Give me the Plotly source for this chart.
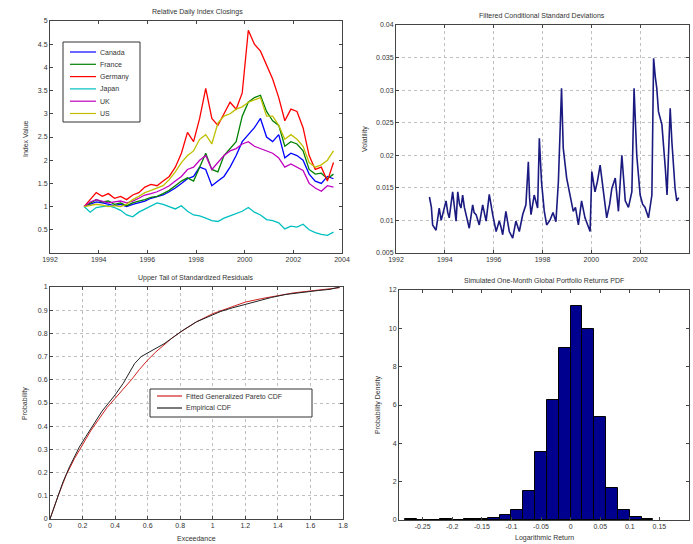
import plotly.graph_objects as go

# ---------------- data: relative daily index closings ----------------
years = [1993.4, 1993.65, 1993.9, 1994.15, 1994.4, 1994.65, 1994.9, 1995.15, 1995.4, 1995.65,
         1995.9, 1996.15, 1996.4, 1996.65, 1996.9, 1997.15, 1997.4, 1997.65, 1997.9, 1998.15,
         1998.4, 1998.65, 1998.9, 1999.15, 1999.4, 1999.65, 1999.9, 2000.15, 2000.4, 2000.65,
         2000.9, 2001.15, 2001.4, 2001.65, 2001.9, 2002.15, 2002.4, 2002.65, 2002.9, 2003.15,
         2003.4, 2003.65]
canada = [1.00, 1.05, 1.10, 1.08, 1.05, 1.02, 1.05, 1.00, 1.05, 1.08, 1.12, 1.18, 1.22, 1.25,
          1.32, 1.40, 1.50, 1.60, 1.65, 1.85, 1.80, 1.45, 1.55, 1.65, 1.85, 2.10, 2.40, 2.55,
          2.70, 2.90, 2.50, 2.40, 2.55, 2.05, 2.15, 2.10, 2.00, 1.70, 1.55, 1.50, 1.65, 1.60]
france = [1.00, 1.08, 1.15, 1.10, 1.12, 1.05, 1.08, 1.02, 1.08, 1.12, 1.15, 1.20, 1.22, 1.28,
          1.35, 1.45, 1.55, 1.62, 1.55, 1.85, 2.15, 1.80, 1.75, 2.10, 2.25, 2.40, 2.95, 3.25,
          3.35, 3.40, 3.05, 2.85, 2.75, 2.30, 2.40, 2.35, 2.20, 1.80, 1.70, 1.72, 1.60, 1.70]
germany = [1.00, 1.15, 1.30, 1.22, 1.28, 1.18, 1.22, 1.15, 1.25, 1.30, 1.42, 1.48, 1.45, 1.55,
           1.65, 1.85, 2.15, 2.60, 2.40, 2.90, 3.55, 2.90, 2.75, 3.00, 3.25, 3.10, 3.45, 4.80,
           4.50, 4.35, 4.05, 3.75, 3.35, 2.85, 3.10, 3.05, 2.70, 2.10, 1.80, 1.85, 1.55, 1.95]
japan = [1.00, 0.88, 0.98, 1.00, 1.02, 0.98, 0.92, 0.82, 0.78, 0.88, 0.95, 1.02, 1.08, 1.05,
         1.00, 0.95, 1.02, 0.90, 0.82, 0.80, 0.75, 0.70, 0.68, 0.75, 0.80, 0.85, 0.90, 0.98,
         0.88, 0.82, 0.72, 0.70, 0.65, 0.52, 0.58, 0.56, 0.62, 0.50, 0.44, 0.40, 0.38, 0.45]
uk = [1.00, 1.10, 1.15, 1.12, 1.08, 1.10, 1.12, 1.08, 1.12, 1.18, 1.25, 1.28, 1.32, 1.38,
      1.45, 1.55, 1.65, 1.80, 1.85, 2.00, 2.10, 1.80, 1.95, 2.10, 2.20, 2.25, 2.35, 2.40,
      2.30, 2.25, 2.20, 2.15, 2.05, 1.85, 1.92, 1.85, 1.78, 1.50, 1.40, 1.33, 1.45, 1.42]
us = [1.00, 1.02, 1.05, 1.03, 1.00, 1.02, 1.00, 1.05, 1.15, 1.22, 1.30, 1.35, 1.40, 1.45,
      1.58, 1.75, 1.95, 2.10, 2.20, 2.45, 2.55, 2.35, 2.80, 2.95, 3.00, 3.10, 3.15, 3.25,
      3.30, 3.35, 2.95, 2.95, 2.75, 2.45, 2.55, 2.45, 2.30, 1.95, 1.85, 1.90, 2.00, 2.20]
country_names = ["Canada", "France", "Germany", "Japan", "UK", "US"]
country_colors = ["#0000ff", "#008000", "#ff0000", "#00bfbf", "#bf00bf", "#bfbf00"]

# ---------------- data: filtered conditional standard deviations ----------------
vol_years = [1993.37, 1993.45, 1993.5, 1993.64, 1993.77, 1993.85, 1993.91, 1994.05, 1994.12, 1994.18,
             1994.32, 1994.4, 1994.46, 1994.53, 1994.6, 1994.66, 1994.73, 1994.8, 1994.87, 1995.0,
             1995.14, 1995.2, 1995.28, 1995.41, 1995.55, 1995.62, 1995.69, 1995.82, 1995.9, 1995.96,
             1996.1, 1996.23, 1996.3, 1996.37, 1996.5, 1996.57, 1996.64, 1996.78, 1996.91, 1997.05,
             1997.19, 1997.32, 1997.42, 1997.47, 1997.53, 1997.66, 1997.8, 1997.87, 1997.96, 1998.07,
             1998.17, 1998.3, 1998.43, 1998.55, 1998.65, 1998.78, 1998.85, 1998.99, 1999.12, 1999.26,
             1999.35, 1999.47, 1999.6, 1999.74, 1999.95, 2000.02, 2000.15, 2000.25, 2000.36, 2000.5,
             2000.63, 2000.75, 2000.84, 2000.98, 2001.11, 2001.25, 2001.39, 2001.52, 2001.66, 2001.75,
             2001.86, 2002.0, 2002.1, 2002.2, 2002.34, 2002.48, 2002.55, 2002.62, 2002.68, 2002.75,
             2002.89, 2003.03, 2003.1, 2003.23, 2003.3, 2003.43, 2003.5, 2003.58]
volatility = [0.0136, 0.0120, 0.0093, 0.0085, 0.0119, 0.0100, 0.0109, 0.0130, 0.0112, 0.0104,
              0.0144, 0.0118, 0.0099, 0.0144, 0.0125, 0.0119, 0.0139, 0.0120, 0.0109, 0.0088,
              0.0124, 0.0112, 0.0109, 0.0093, 0.0124, 0.0108, 0.0099, 0.0140, 0.0118, 0.0109,
              0.0083, 0.0099, 0.0090, 0.0078, 0.0114, 0.0095, 0.0083, 0.0073, 0.0099, 0.0083,
              0.0109, 0.0124, 0.0190, 0.0135, 0.0109, 0.0139, 0.0119, 0.0226, 0.0159, 0.0115,
              0.0093, 0.0100, 0.0112, 0.0098, 0.0159, 0.0303, 0.0211, 0.0165, 0.0139, 0.0114,
              0.0120, 0.0093, 0.0130, 0.0104, 0.0083, 0.0175, 0.0144, 0.0160, 0.0185, 0.0144,
              0.0104, 0.0125, 0.0149, 0.0165, 0.0114, 0.0200, 0.0130, 0.0120, 0.0144, 0.0303,
              0.0200, 0.0139, 0.0125, 0.0120, 0.0104, 0.0139, 0.0349, 0.0320, 0.0303, 0.0267,
              0.0247, 0.0180, 0.0139, 0.0272, 0.0220, 0.0149, 0.0130, 0.0135]

# ---------------- data: upper tail of standardized residuals ----------------
exceed_fit = [0, 0.05, 0.1, 0.15, 0.2, 0.25, 0.3, 0.35, 0.4, 0.45, 0.5, 0.55, 0.6, 0.65, 0.7,
              0.75, 0.8, 0.9, 1.0, 1.1, 1.2, 1.3, 1.4, 1.5, 1.6, 1.7, 1.78]
prob_fit = [0, 0.10, 0.19, 0.26, 0.32, 0.38, 0.43, 0.48, 0.52, 0.56, 0.60, 0.645, 0.685, 0.72,
            0.75, 0.78, 0.805, 0.85, 0.885, 0.91, 0.935, 0.95, 0.963, 0.975, 0.983, 0.99, 0.997]
exceed_emp = [0, 0.04, 0.08, 0.12, 0.18, 0.22, 0.27, 0.32, 0.36, 0.40, 0.45, 0.48, 0.52, 0.56,
              0.60, 0.65, 0.70, 0.76, 0.82, 0.90, 0.98, 1.05, 1.12, 1.2, 1.28, 1.36, 1.45, 1.55,
              1.65, 1.72, 1.78]
prob_emp = [0, 0.08, 0.16, 0.225, 0.31, 0.355, 0.41, 0.465, 0.50, 0.535, 0.585, 0.62, 0.67, 0.70,
            0.715, 0.735, 0.755, 0.785, 0.815, 0.85, 0.875, 0.895, 0.91, 0.925, 0.94, 0.955,
            0.968, 0.978, 0.985, 0.99, 1.0]
cdf_names = ["Fitted Generalized Pareto CDF", "Empirical CDF"]
cdf_colors = ["#d02020", "#222222"]

# ---------------- data: simulated one-month returns PDF ----------------
ret_bins = [-0.27, -0.25, -0.23, -0.21, -0.19, -0.17, -0.15, -0.13, -0.11, -0.09, -0.07,
            -0.05, -0.03, -0.01, 0.01, 0.03, 0.05, 0.07, 0.09, 0.11, 0.13]
density = [0.03, 0.02, 0.01, 0.03, 0.02, 0.04, 0.07, 0.12, 0.26, 0.52, 1.53,
           3.57, 6.26, 9.00, 11.17, 9.95, 5.36, 1.65, 0.52, 0.15, 0.05]

W, H = 693, 544
FONT = "Liberation Sans, Arial, sans-serif"
TXT = "#333333"


def px_dom(a, b, total, flip=False):
    if flip:
        return [1 - b / total, 1 - a / total]
    return [a / total, b / total]


fig = go.Figure()

for name, vals, col in zip(country_names, [canada, france, germany, japan, uk, us], country_colors):
    fig.add_trace(go.Scatter(x=years, y=vals, name=name, mode="lines", showlegend=False,
                             line=dict(color=col, width=1.3), xaxis="x", yaxis="y"))

fig.add_trace(go.Scatter(x=vol_years, y=volatility, mode="lines", showlegend=False,
                         line=dict(color="#1a1a80", width=1.6), xaxis="x2", yaxis="y2"))

for xs, ys, name, col in zip([exceed_fit, exceed_emp], [prob_fit, prob_emp], cdf_names, cdf_colors):
    fig.add_trace(go.Scatter(x=xs, y=ys, mode="lines", name=name, showlegend=False,
                             line=dict(color=col, width=1), xaxis="x3", yaxis="y3"))

fig.add_trace(go.Bar(x=ret_bins, y=density, width=0.02, showlegend=False,
                     marker=dict(color="#00008f", line=dict(color="black", width=1)),
                     xaxis="x4", yaxis="y4"))


def ax(domain, rng, tickvals, ticktext=None, grid=False, anchor=None):
    d = dict(domain=domain, range=rng, tickvals=tickvals, showline=True, linecolor="#444",
             linewidth=1, mirror="allticks", ticks="inside", ticklen=3, tickcolor="#444",
             showgrid=grid, gridcolor="#c0c0c0", griddash="dot", gridwidth=1, zeroline=False,
             tickfont=dict(size=7, color=TXT, family=FONT), anchor=anchor, automargin=False)
    if ticktext is not None:
        d["ticktext"] = ticktext
    return d


yr_ticks = [1992, 1994, 1996, 1998, 2000, 2002, 2004]
yr_text = [str(v) for v in yr_ticks]

fig.update_layout(
    width=W, height=H, margin=dict(l=0, r=0, t=0, b=0),
    paper_bgcolor="white", plot_bgcolor="white",
    font=dict(family=FONT, size=7, color=TXT),
    bargap=0, showlegend=False,
    xaxis=ax(px_dom(50, 342, W), [1992, 2004], yr_ticks, yr_text, anchor="y"),
    yaxis=ax(px_dom(21, 253, H, True), [0, 5], [0.5, 1, 1.5, 2, 2.5, 3, 3.5, 4, 4.5, 5],
             ["0.5", "1", "1.5", "2", "2.5", "3", "3.5", "4", "4.5", "5"], anchor="x"),
    xaxis2=ax(px_dom(396, 689, W), [1992, 2004], yr_ticks, yr_text, grid=True, anchor="y2"),
    yaxis2=ax(px_dom(25, 253, H, True), [0.005, 0.04],
              [0.005, 0.01, 0.015, 0.02, 0.025, 0.03, 0.035, 0.04],
              ["0.005", "0.01", "0.015", "0.02", "0.025", "0.03", "0.035", "0.04"], grid=True, anchor="x2"),
    xaxis3=ax(px_dom(50, 343, W), [0, 1.8], [0, 0.2, 0.4, 0.6, 0.8, 1, 1.2, 1.4, 1.6, 1.8],
              ["0", "0.2", "0.4", "0.6", "0.8", "1", "1.2", "1.4", "1.6", "1.8"], grid=True, anchor="y3"),
    yaxis3=ax(px_dom(287, 519, H, True), [0, 1], [0, 0.1, 0.2, 0.3, 0.4, 0.5, 0.6, 0.7, 0.8, 0.9, 1],
              ["0", "0.1", "0.2", "0.3", "0.4", "0.5", "0.6", "0.7", "0.8", "0.9", "1"], grid=True, anchor="x3"),
    xaxis4=ax(px_dom(399, 689, W), [-0.29, 0.2],
              [-0.25, -0.2, -0.15, -0.1, -0.05, 0, 0.05, 0.1, 0.15, 0.2],
              ["-0.25", "-0.2", "-0.15", "-0.1", "-0.05", "0", "0.05", "0.1", "0.15", "0.2"], anchor="y4"),
    yaxis4=ax(px_dom(290, 520, H, True), [0, 12], [0, 2, 4, 6, 8, 10, 12],
              ["0", "2", "4", "6", "8", "10", "12"], anchor="x4"),
)


# ---- MATLAB-style compact legends (boxes, line samples, labels) ----
def add_legend(names, colors, box, first_y, step, line_x0, line_x1, text_x):
    x0, y0, x1, y1 = box
    fig.add_shape(type="rect", xref="paper", yref="paper", x0=x0 / W, x1=x1 / W,
                  y0=1 - y1 / H, y1=1 - y0 / H, line=dict(color="#333", width=1),
                  fillcolor="white", layer="above")
    for i, (nm, col) in enumerate(zip(names, colors)):
        yy = 1 - (first_y + i * step) / H
        fig.add_shape(type="line", xref="paper", yref="paper", x0=line_x0 / W, x1=line_x1 / W,
                      y0=yy, y1=yy, line=dict(color=col, width=1.2), layer="above")
        fig.add_annotation(text=nm, x=text_x / W, y=yy, xref="paper", yref="paper",
                           showarrow=False, xanchor="left", yanchor="middle",
                           font=dict(size=7, color=TXT, family=FONT))


add_legend(country_names, country_colors, (63, 42, 140, 122), 52, 12.3, 70, 96, 98)
add_legend(cdf_names, cdf_colors, (150, 389, 312, 417), 396, 12, 157, 182, 184)

annots = [
    ("Relative Daily Index Closings", 197, 12, 0),
    ("Filtered Conditional Standard Deviations", 542, 15, 0),
    ("Upper Tail of Standardized Residuals", 196, 278, 0),
    ("Simulated One-Month Global Portfolio Returns PDF", 544, 280, 0),
    ("Index Value", 25, 138, -90),
    ("Volatility", 365, 139, -90),
    ("Probability", 25, 403, -90),
    ("Probability Density", 378, 405, -90),
    ("Exceedance", 196, 538, 0),
    ("Logarithmic Return", 544, 538, 0),
]
for text, x, y, ang in annots:
    fig.add_annotation(text=text, x=x / W, y=1 - y / H, xref="paper", yref="paper",
                       showarrow=False, textangle=ang, xanchor="center", yanchor="middle",
                       font=dict(size=7, color=TXT, family=FONT))

fig.write_html("out.html", config={"displayModeBar": False},
               post_script="document.body.style.margin='0';document.body.style.padding='0';")
